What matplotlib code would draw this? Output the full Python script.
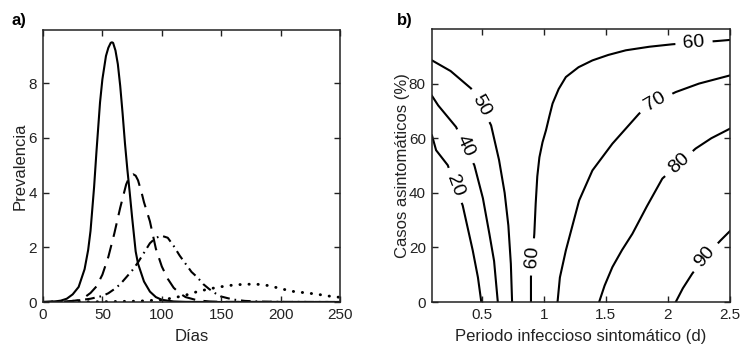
import numpy as np
import matplotlib
matplotlib.use('Agg')
import matplotlib.pyplot as plt

plt.rcParams['font.family'] = ['Liberation Sans', 'DejaVu Sans']
plt.rcParams['lines.scale_dashes'] = False

# ---------------- Panel a data ----------------
solid_days = [0, 10, 15, 20, 25, 30, 35, 38, 40, 43, 45, 48, 50, 53, 55, 57, 58, 59, 61, 63,
              65, 67, 69, 71, 73, 75, 78, 80, 85, 90, 95, 100, 110, 120, 140, 250]
solid_prev = [0, 0.02, 0.05, 0.12, 0.28, 0.55, 1.2, 1.9, 2.6, 4.2, 5.5, 7.3, 8.15, 9.0, 9.3, 9.48, 9.5, 9.48, 9.2, 8.7,
              7.9, 6.9, 5.8, 4.85, 4.0, 3.1, 1.85, 1.4, 0.75, 0.38, 0.18, 0.08, 0.02, 0.005, 0, 0]

dash_days = [0, 20, 30, 35, 40, 45, 50, 55, 60, 65, 70, 73, 76, 78, 80, 83, 85, 90, 95, 100,
             105, 110, 115, 120, 130, 140, 150, 250]
dash_prev = [0, 0.01, 0.07, 0.17, 0.33, 0.57, 1.0, 1.65, 2.5, 3.45, 4.3, 4.6, 4.67, 4.62, 4.45, 4.0, 3.65, 2.95, 1.95, 1.3,
             0.85, 0.52, 0.32, 0.18, 0.06, 0.02, 0.005, 0]

dd_days = [0, 20, 30, 40, 50, 55, 60, 65, 70, 75, 80, 85, 90, 95, 100, 105, 110, 115, 120, 125,
           130, 135, 140, 145, 150, 160, 170, 180, 200, 250]
dd_prev = [0, 0.02, 0.06, 0.12, 0.22, 0.32, 0.47, 0.65, 0.9, 1.15, 1.45, 1.8, 2.15, 2.35, 2.42, 2.35, 2.05, 1.7, 1.4, 1.1,
           0.9, 0.65, 0.47, 0.32, 0.2, 0.09, 0.04, 0.02, 0.005, 0]

dot_days = [0, 50, 80, 100, 110, 120, 130, 140, 150, 160, 170, 180, 190, 200, 210, 220, 230, 240, 250]
dot_prev = [0, 0.01, 0.03, 0.08, 0.15, 0.25, 0.38, 0.48, 0.56, 0.62, 0.65, 0.65, 0.6, 0.49, 0.39, 0.34, 0.29, 0.22, 0.17]

a_xticks = [0, 50, 100, 150, 200, 250]
a_yticks = [0, 2, 4, 6, 8]

# ---------------- Panel b data (contour lines) ----------------
c20_x = [0.1, 0.133, 0.227, 0.285, 0.347, 0.428, 0.47, 0.497]
c20_y = [61, 55.6, 50.1, 42.7, 35.4, 18.9, 9, 0]

c40_x = [0.1, 0.15, 0.294, 0.365, 0.441, 0.51, 0.562, 0.60, 0.63]
c40_y = [75.5, 72, 64.1, 57, 50.1, 38, 25, 15, 0]

c50_x = [0.1, 0.25, 0.415, 0.495, 0.576, 0.64, 0.685, 0.715, 0.735, 0.745]
c50_y = [88.5, 84.6, 78.2, 72, 64.7, 52, 40, 28, 14, 0]

c60_x = [0.897, 0.897, 0.91, 0.924, 0.935, 0.948, 0.965, 0.99, 1.018, 1.045, 1.071, 1.12, 1.178, 1.28,
         1.392, 1.52, 1.661, 1.85, 2.035, 2.21, 2.397, 2.5]
c60_y = [0, 9.2, 16.5, 25, 36, 46, 53, 58.5, 62.9, 68, 72.7, 78, 82.4, 86,
         88.5, 90.5, 92.2, 93.5, 94.4, 95.0, 95.6, 96]

c70_x = [1.111, 1.13, 1.178, 1.285, 1.392, 1.553, 1.768, 1.90, 2.063, 2.25, 2.5]
c70_y = [0, 9, 18.9, 37.2, 48.2, 58, 69, 73.3, 76.9, 80, 83]

c80_x = [1.446, 1.49, 1.553, 1.63, 1.714, 1.83, 1.955, 2.089, 2.223, 2.35, 2.5]
c80_y = [0, 6, 12.8, 19, 25, 35, 45.2, 50.7, 56.2, 60, 63.5]

c90_x = [2.063, 2.12, 2.196, 2.30, 2.425, 2.5]
c90_y = [0, 5, 10.4, 16.5, 22.6, 26]

contours = [(c20_x, c20_y), (c40_x, c40_y), (c50_x, c50_y), (c60_x, c60_y),
            (c70_x, c70_y), (c80_x, c80_y), (c90_x, c90_y)]

# label text, contour index, x, y
label_text = ['20', '40', '50', '60', '60', '70', '80', '90']
label_line = [0, 1, 2, 3, 3, 4, 5, 6]
label_x = [0.285, 0.365, 0.495, 0.91, 2.21, 1.90, 2.089, 2.30]
label_y = [42.7, 57, 72, 16.5, 95.0, 73.3, 50.7, 16.5]

b_xticks = [0.5, 1, 1.5, 2, 2.5]
b_xticklabels = ['0.5', '1', '1.5', '2', '2.5']
b_yticks = [0, 20, 40, 60, 80]

# ---------------- Figure ----------------
fig = plt.figure(figsize=(7.43, 3.5), dpi=100)
W, H = 743, 350
axa = fig.add_axes([43 / W, 48 / H, 297 / W, 272 / H])
axb = fig.add_axes([432 / W, 48 / H, 298 / W, 273 / H])

lw = 1.5
axa.plot(solid_days, solid_prev, color='black', lw=lw, solid_joinstyle='round')
axa.plot(dash_days, dash_prev, color='black', lw=lw, dashes=(10, 6))
axa.plot(dd_days, dd_prev, color='black', lw=lw, dashes=(7, 3.5, 1.2, 3.5))
axa.plot(dot_days, dot_prev, color='black', lw=2.1, dashes=(0.2, 6.3), dash_capstyle='round')

axa.set_xlim(0, 250)
axa.set_ylim(0, 9.95)
axa.set_xticks(a_xticks)
axa.set_yticks(a_yticks)

for ax in (axa, axb):
    ax.set_axisbelow(False)
    ax.tick_params(direction='in', length=4, width=1.0, top=True, right=True,
                   labelsize=11, pad=4.5, color='#222222', labelcolor='#222222')
    for s in ax.spines.values():
        s.set_linewidth(1.1)
        s.set_color('#222222')

axa.set_xlabel('Días', fontsize=12, color='#222222')
axa.xaxis.set_label_coords(0.5, -0.098)
axa.set_ylabel('Prevalencia', fontsize=12, color='#222222')
axa.yaxis.set_label_coords(-0.052, 0.5)

# panel b
for cx, cy in contours:
    axb.plot(cx, cy, color='black', lw=1.5, zorder=1, solid_joinstyle='round')

axb.set_xlim(0.1, 2.5)
axb.set_ylim(0, 100)
axb.set_xticks(b_xticks)
axb.set_xticklabels(b_xticklabels)
axb.set_yticks(b_yticks)

fig.canvas.draw()


def label_angle(ax, xs, ys, x0, y0):
    pts = ax.transData.transform(np.column_stack([xs, ys]))
    p0 = ax.transData.transform((x0, y0))
    d = np.hypot(*(pts - p0).T)
    i = int(np.argmin(d))
    j0 = max(i - 1, 0)
    j1 = min(i + 1, len(xs) - 1)
    dx, dy = pts[j1] - pts[j0]
    ang = np.degrees(np.arctan2(dy, dx))
    if ang > 90:
        ang -= 180
    if ang <= -90:
        ang += 180
    return ang


for t, li, x0, y0 in zip(label_text, label_line, label_x, label_y):
    cx, cy = contours[li]
    ang = label_angle(axb, cx, cy, x0, y0)
    axb.text(x0, y0, t, fontsize=14, rotation=ang, rotation_mode='anchor',
             ha='center', va='center', color='black', zorder=1.5,
             bbox=dict(boxstyle='square,pad=0.4', fc='white', ec='none'))

axb.set_xlabel('Periodo infeccioso sintomático (d)', fontsize=12, color='#222222')
axb.xaxis.set_label_coords(0.5, -0.098)
axb.set_ylabel('Casos asintomáticos (%)', fontsize=12, color='#222222')
axb.yaxis.set_label_coords(-0.075, 0.5)

fig.text(12 / W, 1 - 25 / H, 'a)', fontsize=12, fontweight='bold', va='baseline', ha='left')
fig.text(397 / W, 1 - 25 / H, 'b)', fontsize=12, fontweight='bold', va='baseline', ha='left')

fig.savefig('out.png', dpi=100)
